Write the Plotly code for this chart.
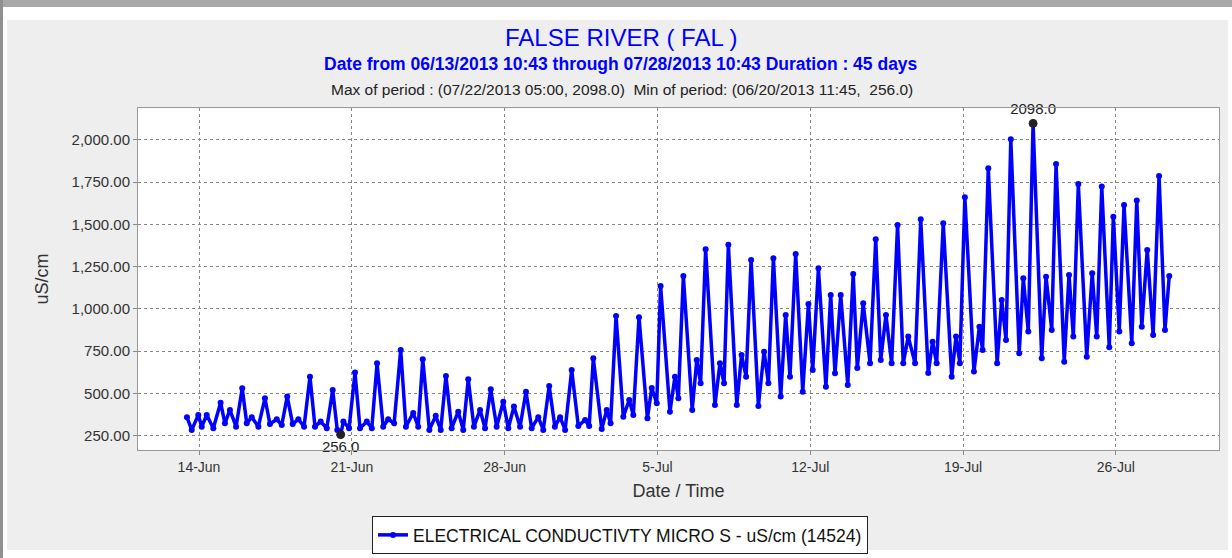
import plotly.graph_objects as go

# Lecture des extrêmes de chaque marée sur le graphique (horodatage, uS/cm)
times = [
    "2013-06-13 10:43", "2013-06-13 16:00", "2013-06-13 23:15", "2013-06-14 03:00",
    "2013-06-14 08:30", "2013-06-14 15:45", "2013-06-14 23:45", "2013-06-15 04:30",
    "2013-06-15 10:00", "2013-06-15 16:45", "2013-06-15 23:30", "2013-06-16 04:30",
    "2013-06-16 10:00", "2013-06-16 17:15", "2013-06-17 00:30", "2013-06-17 06:00",
    "2013-06-17 13:30", "2013-06-17 19:00", "2013-06-18 01:00", "2013-06-18 07:00",
    "2013-06-18 13:15", "2013-06-18 19:30", "2013-06-19 02:00", "2013-06-19 07:30",
    "2013-06-19 13:45", "2013-06-19 20:30", "2013-06-20 03:00", "2013-06-20 08:00",
    "2013-06-20 11:45", "2013-06-20 14:45", "2013-06-20 21:00", "2013-06-21 03:30",
    "2013-06-21 09:00", "2013-06-21 16:30", "2013-06-21 22:00", "2013-06-22 03:45",
    "2013-06-22 10:30", "2013-06-22 16:00", "2013-06-22 22:30", "2013-06-23 05:45",
    "2013-06-23 11:30", "2013-06-23 19:30", "2013-06-24 01:00", "2013-06-24 06:00",
    "2013-06-24 13:15", "2013-06-24 20:15", "2013-06-25 01:45", "2013-06-25 07:30",
    "2013-06-25 13:45", "2013-06-25 21:00", "2013-06-26 02:30", "2013-06-26 08:00",
    "2013-06-26 14:15", "2013-06-26 21:00", "2013-06-27 02:30", "2013-06-27 08:45",
    "2013-06-27 15:15", "2013-06-27 22:30", "2013-06-28 04:00", "2013-06-28 10:15",
    "2013-06-28 17:00", "2013-06-28 23:30", "2013-06-29 05:45", "2013-06-29 13:00",
    "2013-06-29 18:30", "2013-06-30 01:00", "2013-06-30 07:15", "2013-06-30 13:00",
    "2013-06-30 18:30", "2013-07-01 01:45", "2013-07-01 09:00", "2013-07-01 16:30",
    "2013-07-01 21:00", "2013-07-02 01:30", "2013-07-02 10:45", "2013-07-02 16:15",
    "2013-07-02 20:30", "2013-07-03 02:30", "2013-07-03 10:30", "2013-07-03 17:00",
    "2013-07-03 21:30", "2013-07-04 03:45", "2013-07-04 13:00", "2013-07-04 17:45",
    "2013-07-04 23:15", "2013-07-05 03:30", "2013-07-05 13:45", "2013-07-05 19:15",
    "2013-07-05 23:00", "2013-07-06 04:30", "2013-07-06 14:15", "2013-07-06 19:15",
    "2013-07-06 23:30", "2013-07-07 05:00", "2013-07-07 15:15", "2013-07-07 20:45",
    "2013-07-08 01:15", "2013-07-08 06:00", "2013-07-08 15:15", "2013-07-08 20:30",
    "2013-07-09 01:30", "2013-07-09 07:00", "2013-07-09 15:00", "2013-07-09 21:15",
    "2013-07-10 02:00", "2013-07-10 07:30", "2013-07-10 15:30", "2013-07-10 21:00",
    "2013-07-11 01:45", "2013-07-11 08:00", "2013-07-11 15:45", "2013-07-11 22:00",
    "2013-07-12 02:45", "2013-07-12 09:00", "2013-07-12 17:15", "2013-07-12 22:30",
    "2013-07-13 03:15", "2013-07-13 09:30", "2013-07-13 17:15", "2013-07-13 23:15",
    "2013-07-14 03:45", "2013-07-14 10:15", "2013-07-14 17:45", "2013-07-15 00:00",
    "2013-07-15 05:30", "2013-07-15 11:15", "2013-07-15 17:30", "2013-07-16 00:00",
    "2013-07-16 06:15", "2013-07-16 11:45", "2013-07-16 19:15", "2013-07-17 01:30",
    "2013-07-17 09:45", "2013-07-17 14:30", "2013-07-17 19:00", "2013-07-18 02:15",
    "2013-07-18 11:30", "2013-07-18 16:15", "2013-07-18 20:30", "2013-07-19 02:00",
    "2013-07-19 12:00", "2013-07-19 18:00", "2013-07-19 21:30", "2013-07-20 03:45",
    "2013-07-20 13:30", "2013-07-20 18:30", "2013-07-20 23:15", "2013-07-21 04:30",
    "2013-07-21 13:45", "2013-07-21 18:15", "2013-07-21 23:45", "2013-07-22 05:00",
    "2013-07-22 14:30", "2013-07-22 19:15", "2013-07-23 01:30", "2013-07-23 06:15",
    "2013-07-23 15:15", "2013-07-23 20:30", "2013-07-24 01:15", "2013-07-24 06:45",
    "2013-07-24 16:00", "2013-07-24 22:00", "2013-07-25 03:00", "2013-07-25 08:30",
    "2013-07-25 16:45", "2013-07-25 21:15", "2013-07-26 03:45", "2013-07-26 09:00",
    "2013-07-26 17:30", "2013-07-26 23:00", "2013-07-27 04:30", "2013-07-27 10:30",
    "2013-07-27 17:00", "2013-07-27 23:30", "2013-07-28 06:00", "2013-07-28 10:43",
]

ec_values = [
    359, 284, 372, 303, 372, 294, 445, 323, 402, 303, 530, 323,
    359, 303, 471, 319, 347, 313, 481, 319, 347, 303, 599, 303,
    333, 294, 520, 284, 256, 333, 294, 623, 294, 333, 294, 678,
    303, 347, 323, 757, 303, 384, 303, 702, 284, 367, 284, 603,
    294, 392, 284, 584, 303, 402, 294, 525, 303, 451, 294, 422,
    303, 510, 294, 359, 284, 544, 303, 359, 284, 639, 307, 343,
    307, 708, 289, 402, 323, 958, 362, 461, 372, 951, 353, 532,
    442, 1136, 392, 599, 471, 1195, 402, 698, 560, 1353, 432, 678,
    560, 1379, 432, 727, 599, 1290, 426, 747, 560, 1300, 481, 964,
    599, 1325, 510, 1029, 639, 1240, 540, 1083, 619, 1083, 550, 1207,
    650, 1033, 678, 1412, 698, 964, 678, 1497, 678, 836, 678, 1530,
    621, 806, 678, 1507, 599, 836, 678, 1661, 629, 895, 757, 1832,
    678, 1053, 816, 2004, 738, 1181, 866, 2098, 708, 1191, 875, 1857,
    688, 1201, 836, 1739, 717, 1211, 836, 1724, 773, 1546, 866, 1615,
    797, 1641, 895, 1349, 846, 1787, 875, 1195,
]

# Max / min de la période
extreme_times = ["2013-07-22 05:00", "2013-06-20 11:45"]
extreme_values = [2098.0, 256.0]

y_ticks = [250, 500, 750, 1000, 1250, 1500, 1750, 2000]
x_ticks = ["2013-06-14", "2013-06-21", "2013-06-28", "2013-07-05",
           "2013-07-12", "2013-07-19", "2013-07-26"]

FONT = "Liberation Sans, Arial, sans-serif"
W, H = 1232, 558
L, R, T, B = 138, 13, 108, 108
PW, PH = W - L - R, H - T - B


def px(x):
    return (x - L) / PW


def py(y):
    return (H - B - y) / PH


fig = go.Figure()

fig.add_trace(go.Scatter(
    x=times, y=ec_values, mode="lines+markers",
    name="ELECTRICAL CONDUCTIVTY MICRO S - uS/cm (14524)",
    line=dict(color="#0000FF", width=3.5),
    marker=dict(color="#0000FF", size=6),
))

fig.add_trace(go.Scatter(
    x=extreme_times, y=extreme_values, mode="markers+text",
    text=[f"{v:.1f}" for v in extreme_values],
    textposition=["top center", "bottom center"],
    textfont=dict(family=FONT, size=15, color="#222222"),
    marker=dict(symbol="circle-cross", size=8, color="#222222",
                line=dict(color="#222222", width=1)),
    cliponaxis=False, showlegend=False, hoverinfo="skip",
))

# Cadre de la fenêtre
frame = [
    (0, 0, W, 7, "#A8A8A8"),
    (0, 7, W, 20, "#FFFFFF"),
    (0, 0, 3, H, "#909090"),
    (3, 7, 7, H, "#FFFFFF"),
    (1228, 7, W, H, "#FFFFFF"),
    (3, 550, W, H, "#FFFFFF"),
]
for x0, y0, x1, y1, c in frame:
    fig.add_shape(type="rect", xref="paper", yref="paper",
                  x0=px(x0), x1=px(x1), y0=py(y1), y1=py(y0),
                  line=dict(width=0), fillcolor=c, layer="below")

titles = [
    ("FALSE RIVER ( FAL )", 621, 37, 24, "#0000FF"),
    ("<b>Date from 06/13/2013 10:43 through 07/28/2013 10:43 Duration : 45 days</b>",
     621, 64, 17.5, "#0000FF"),
    ("Max of period : (07/22/2013 05:00, 2098.0)  Min of period: (06/20/2013 11:45,  256.0)",
     622, 89, 15.5, "#222222"),
]
for txt, tx, ty, size, color in titles:
    fig.add_annotation(text=txt, xref="paper", yref="paper",
                       x=px(tx), y=py(ty), xanchor="center", yanchor="middle",
                       showarrow=False,
                       font=dict(family=FONT, size=size, color=color))

fig.update_layout(
    width=W, height=H,
    margin=dict(l=L, r=R, t=T, b=B, autoexpand=False),
    paper_bgcolor="#EEEEEE",
    plot_bgcolor="#FFFFFF",
    font=dict(family=FONT, size=14, color="#333333"),
    showlegend=True,
    legend=dict(x=px(372), y=py(516), xanchor="left", yanchor="top",
                bgcolor="#FFFFFF", bordercolor="#222222", borderwidth=1,
                itemwidth=30,
                font=dict(family=FONT, size=17.5, color="#111111")),
)

fig.update_xaxes(
    type="date",
    range=["2013-06-11 04:56", "2013-07-30 17:24"],
    tickvals=x_ticks, tickformat="%-d-%b",
    ticks="outside", ticklen=4, tickcolor="#888888",
    showgrid=True, gridcolor="#888888", griddash="3px,3px", gridwidth=1,
    showline=True, linecolor="#999999", mirror=True, zeroline=False,
    tickfont=dict(size=14, color="#333333"),
    title=dict(text="Date / Time", font=dict(size=18, color="#333333"), standoff=10),
)
fig.update_yaxes(
    range=[165, 2189],
    tickvals=y_ticks, tickformat=",.2f",
    ticks="outside", ticklen=4, tickcolor="#888888",
    showgrid=True, gridcolor="#888888", griddash="3px,3px", gridwidth=1,
    showline=True, linecolor="#999999", mirror=True, zeroline=False,
    tickfont=dict(size=15, color="#333333"),
    title=dict(text="uS/cm", font=dict(size=18, color="#333333"), standoff=18),
)

fig.write_html("out.html", config={"displayModeBar": False},
               post_script="document.body.style.margin='0';")
